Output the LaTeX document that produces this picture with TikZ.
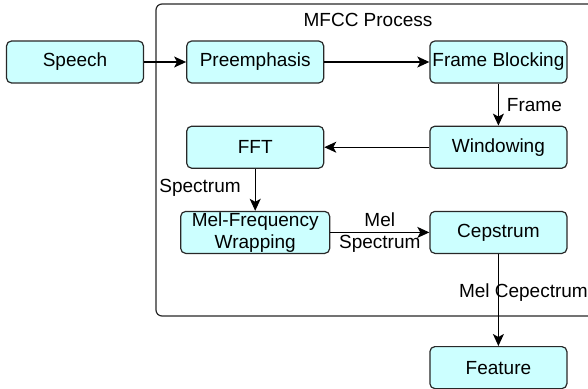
\documentclass[tikz,border=0pt]{standalone}
\usepackage{fontspec}
\setmainfont{Liberation Sans}
\usetikzlibrary{arrows.meta, positioning}

\definecolor{boxfill}{RGB}{204,255,255}
\definecolor{boxline}{RGB}{40,40,40}

\begin{document}
\begin{tikzpicture}[
            x = 1pt, y = -1pt,
            > = {Stealth[length=12pt, width=11pt, inset=3pt]}, % arrow head style
            every node/.style = {font=\fontsize{19}{22}\selectfont},
            semithick, line width = 1.1pt % line style
        ]

        \tikzset{
            step box/.style = {
                draw = boxline,
                fill = boxfill,
                rounded corners = 5pt,
                line width = 1.2pt,
                inner sep = 0pt,
                minimum width = 137pt,
                minimum height = 42pt,
                align = center
            },
            lbl/.style = {inner sep = 2pt, align = center}
        }

        \useasboundingbox (0,0) rectangle (588,388);

        % MFCC frame
        \draw[boxline, line width = 1.2pt, rounded corners = 6pt] (156,4) rectangle (600,316);
        \node (title) at (368,20) {MFCC Process};

        \node[step box] (speech) at (75,62) {Speech};
        \node[step box] (pre) [right=42pt of speech] {Preemphasis};
        \node[step box] (block) [right=105pt of pre] {Frame Blocking};
        \node[step box] (win) [below=42pt of block] {Windowing};
        \node[step box] (fft) [left=105pt of win] {FFT};
        \node[step box, minimum width=149pt] (mel) [below=42pt of fft] {Mel-Frequency\\Wrapping};
        \node[step box] (cep) [below=42pt of win] {Cepstrum};
        \node[step box] (feat) [below=92pt of cep] {Feature};

        \draw[->] (speech) -- (pre);
        \draw[->] (pre) -- (block);
        \draw[->] (block) -- node[lbl, right, xshift=6pt] {Frame} (win);
        \draw[->] (win) -- (fft);
        \draw[->] (fft) -- node[lbl, left, xshift=-12pt, yshift=2pt] {Spectrum} (mel);
        \draw[->] (mel) -- node[lbl] {Mel\\Spectrum} (cep);
        \draw[->] (cep) -- node[lbl, pos=0.42, xshift=25pt] {Mel Cepectrum} (feat);

  \end{tikzpicture}
\end{document}
